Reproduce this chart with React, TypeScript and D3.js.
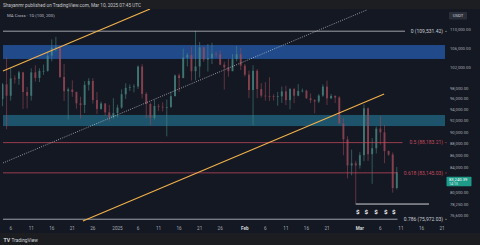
import React from "react";
import * as d3 from "d3";

const candleDates = [
  "2024-12-04","2024-12-05","2024-12-06","2024-12-07","2024-12-08","2024-12-09","2024-12-10","2024-12-11","2024-12-12","2024-12-13",
  "2024-12-14","2024-12-15","2024-12-16","2024-12-17","2024-12-18","2024-12-19","2024-12-20","2024-12-21","2024-12-22","2024-12-23",
  "2024-12-24","2024-12-25","2024-12-26","2024-12-27","2024-12-28","2024-12-29","2024-12-30","2024-12-31","2025-01-01","2025-01-02",
  "2025-01-03","2025-01-04","2025-01-05","2025-01-06","2025-01-07","2025-01-08","2025-01-09","2025-01-10","2025-01-11","2025-01-12",
  "2025-01-13","2025-01-14","2025-01-15","2025-01-16","2025-01-17","2025-01-18","2025-01-19","2025-01-20","2025-01-21","2025-01-22",
  "2025-01-23","2025-01-24","2025-01-25","2025-01-26","2025-01-27","2025-01-28","2025-01-29","2025-01-30","2025-01-31","2025-02-01",
  "2025-02-02","2025-02-03","2025-02-04","2025-02-05","2025-02-06","2025-02-07","2025-02-08","2025-02-09","2025-02-10","2025-02-11",
  "2025-02-12","2025-02-13","2025-02-14","2025-02-15","2025-02-16","2025-02-17","2025-02-18","2025-02-19","2025-02-20","2025-02-21",
  "2025-02-22","2025-02-23","2025-02-24","2025-02-25","2025-02-26","2025-02-27","2025-02-28","2025-03-01","2025-03-02","2025-03-03",
  "2025-03-04","2025-03-05","2025-03-06","2025-03-07","2025-03-08","2025-03-09","2025-03-10",
];
const opens = [
  95980,98770,96600,99900,99850,101100,97300,96600,101100,100000,
  101400,101400,104450,106060,106140,100200,97460,97800,97300,95190,
  94880,98680,99430,95800,94160,95160,93530,92640,93390,94400,
  96880,98100,98230,98360,102240,96950,95060,92550,94700,94560,
  94490,94520,96530,100500,99990,104080,104560,101330,102260,106140,
  103650,103960,104820,104700,102620,102080,101330,103730,104730,102430,
  100640,97690,101400,97870,96620,96550,96530,96480,96500,97430,
  95780,97870,96610,97500,97570,96120,95770,95540,96640,98340,
  96120,96580,96270,91550,88740,84350,84710,84350,86060,94270,
  86220,87220,90620,89960,86740,86150,80730,
];
const highs = [
  99000,104090,101900,100500,101400,101200,98270,101900,102500,101900,
  102650,105250,107790,108350,106500,102800,98150,99540,97400,96420,
  99400,99960,99960,97300,95500,95200,94900,96150,94930,97800,
  98970,98750,98800,102480,102720,97260,95350,95840,95050,95400,
  95900,97370,100680,100870,105870,104980,106300,109590,107240,106330,
  106850,107100,105280,105500,103220,103780,104780,106460,106000,102780,
  101460,102500,101750,99000,99200,100140,96880,97320,98350,98500,
  98100,98100,98800,97970,97730,97040,96000,96900,98770,99500,
  96950,96670,96500,92500,89290,87000,85120,86560,95000,94420,
  88960,91000,92810,91250,86850,86500,84120,
];
const lows = [
  94660,90500,95700,98900,98700,94150,94250,95700,99300,99200,
  100600,101230,103300,105300,100000,95600,92230,96400,94200,92400,
  93400,97600,95140,93250,94000,92880,91900,92300,92600,94200,
  96000,97500,97250,97900,96100,92500,91200,92200,93800,93700,
  89260,94300,96500,97300,99950,102270,99500,99550,100100,103200,
  101260,102750,104100,102500,97780,100270,101330,103300,101560,100280,
  96150,91230,96150,96250,95700,95620,95700,94750,95260,94850,
  94090,95220,96500,97230,96050,95220,93370,95240,96400,94870,
  96000,95250,91350,86050,82260,82750,78260,83830,85050,85100,
  81390,86340,87850,84720,85950,80000,80520,
];
const closes = [
  98770,96600,99900,99850,101100,97300,96600,101100,100000,101400,
  101400,104450,106060,106140,100200,97460,97800,97300,95190,94880,
  98680,99430,95800,94160,95160,93530,92640,93390,94400,96880,
  98100,98230,98360,102240,96950,95060,92550,94700,94560,94490,
  94520,96530,100500,99990,104080,104560,101330,102260,106140,103650,
  103960,104820,104700,102620,102080,101330,103730,104730,102430,100640,
  97690,101400,97870,96620,96550,96530,96480,96500,97430,95780,
  97870,96610,97500,97570,96120,95770,95540,96640,98340,96120,
  96580,96270,91550,88740,84350,84710,84350,86060,94270,86220,
  87220,90620,89960,86740,86150,80730,83240,
];

const priceTicks = [110000, 106000, 102000, 98000, 96000, 94000, 92000, 90000, 88000, 86000, 84000, 80000, 78250, 76600];
const timeTickDates = [
  "2024-12-06","2024-12-11","2024-12-16","2024-12-21","2024-12-26","2025-01-01","2025-01-06","2025-01-11","2025-01-16","2025-01-21",
  "2025-01-26","2025-02-01","2025-02-06","2025-02-11","2025-02-16","2025-02-21","2025-03-01","2025-03-06","2025-03-11","2025-03-16","2025-03-21",
];
const timeTickLabels = ["6","11","16","21","26","2025","6","11","16","21","26","Feb","6","11","16","21","Mar","6","11","16","21"];

const fibRatios = ["0", "0.5", "0.618", "0.786"];
const fibPrices = [109531.42, 88183.21, 83145.03, 75972.03];
const fibColors = ["#c9ccd4", "#c24a5e", "#c24a5e", "#c9ccd4"];

const zoneTop = [106620, 93060];
const zoneBottom = [103770, 91070];
const zoneColors = ["#22549c", "#1f5f78"];

const trendStartDates = ["2024-12-04T03:00", "2024-12-04T03:00", "2024-12-23T14:00"];
const trendStartPrices = [101360, 84760, 75710];
const trendEndDates = ["2025-01-08T22:00", "2025-03-02T16:00", "2025-03-06T22:00"];
const trendEndPrices = [114370, 114150, 96930];
const trendStyles = ["solid", "dotted", "solid"];

const supportPrice = 78250;
const supportStart = "2025-02-28T00:00";
const supportEnd = "2025-03-17T20:00";
const dollarDates = ["2025-02-28T12:00", "2025-03-02T14:00", "2025-03-04T22:00", "2025-03-07T08:00", "2025-03-09T06:00"];
const dollarPrice = 77050;

const lastPrice = 83240.39;
const lastPriceText = "83,240.39";
const countdownText = "14:15";

const W = 480, H = 245;
const paneLeft = 2, paneRight = 447, paneTop = 9, paneBottom = 222;
const font = "Roboto, 'Noto Sans', sans-serif";

const pd = (s: string) => new Date(s + (s.length === 10 ? "T00:00:00Z" : ":00Z"));

export default function App() {
  const x = d3.scaleUtc().domain([pd("2024-12-06"), pd("2025-03-21")]).range([10.7, 442]);
  const y = d3.scaleLog().domain([110000, 76600]).range([29, 215]);
  const fmt = d3.format(",.2f");
  const bodyW = 1.9;

  return (
    <svg width={W} height={H} style={{ position: "fixed", left: 0, top: 0, display: "block" }} fontFamily={font}>
      <defs>
        <clipPath id="pane">
          <rect x={paneLeft} y={paneTop} width={paneRight - paneLeft} height={paneBottom - paneTop} />
        </clipPath>
      </defs>
      <rect x={0} y={0} width={W} height={H} fill="#141822" />
      {/* header */}
      <rect x={0} y={0} width={W} height={paneTop} fill="#1d1e22" />
      <text x={3} y={6.6} fontSize={4.7} fill="#c3c6cc">Shayanmr published on TradingView.com, Mar 10, 2025 07:45 UTC</text>
      {/* bottom bar */}
      <rect x={0} y={233} width={W} height={12} fill="#1c1d20" />
      <text x={3.5} y={241.5} fontSize={5.2} fontWeight={700} fill="#d1d4dc">TV</text>
      <text x={11.5} y={241.5} fontSize={4.8} fill="#d1d4dc">TradingView</text>

      <g clipPath="url(#pane)">
        {zoneTop.map((p, i) => (
          <rect key={"z" + i} x={paneLeft + 1} y={y(p)} width={445 - paneLeft - 1} height={y(zoneBottom[i]) - y(p)} fill={zoneColors[i]} opacity={0.85} />
        ))}
        {candleDates.map((d, i) => {
          const cx = x(pd(d));
          const up = closes[i] >= opens[i];
          const col = up ? "#4a8c86" : "#a04b5a";
          const yo = y(opens[i]), yc = y(closes[i]);
          return (
            <g key={"c" + i} opacity={0.8}>
              <line x1={cx} x2={cx} y1={y(highs[i])} y2={y(lows[i])} stroke={col} strokeWidth={0.7} />
              <rect x={cx - bodyW / 2} y={Math.min(yo, yc)} width={bodyW} height={Math.max(0.7, Math.abs(yo - yc))} fill={col} />
            </g>
          );
        })}
        {fibPrices.map((p, i) => {
          const label = `${fibRatios[i]} (${fmt(p)})`;
          const lx = 443 - label.length * 2.5 - 3;
          return (
            <line key={"f" + i} x1={paneLeft + 1} x2={lx} y1={y(p)} y2={y(p)} stroke={fibColors[i]} strokeWidth={0.9} opacity={0.85} />
          );
        })}
        {trendStartDates.map((d, i) => (
          <line key={"t" + i}
            x1={x(pd(d))} y1={y(trendStartPrices[i])}
            x2={x(pd(trendEndDates[i]))} y2={y(trendEndPrices[i])}
            stroke={trendStyles[i] === "dotted" ? "#c9ccd4" : "#f2b14a"}
            strokeWidth={trendStyles[i] === "dotted" ? 0.8 : 1.1}
            strokeDasharray={trendStyles[i] === "dotted" ? "0.9 1.4" : undefined} />
        ))}
        <line x1={x(pd(supportStart))} x2={x(pd(supportEnd))} y1={y(supportPrice)} y2={y(supportPrice)} stroke="#e6e8ee" strokeWidth={0.9} />
        {dollarDates.map((d, i) => (
          <text key={"d" + i} x={x(pd(d))} y={y(dollarPrice) + 2.3} fontSize={6.2} fontWeight={700} fill="#f0f1f4" textAnchor="middle">$</text>
        ))}
      </g>

      {/* legend */}
      <text x={7} y={16.5} fontSize={4.3} fill="#b9bcc4">MA Cross · 1D (100, 200)</text>

      {/* fib labels */}
      {fibPrices.map((p, i) => {
        const label = `${fibRatios[i]} (${fmt(p)})`;
        return (
          <g key={"fl" + i}>
            <text x={443} y={y(p) + 1.7} fontSize={5} fill={fibColors[i]} textAnchor="end">{label}</text>
            <circle cx={446} cy={y(p)} r={0.55} fill={fibColors[i]} />
          </g>
        );
      })}

      {/* price axis */}
      <rect x={449} y={12} width={18} height={7.5} rx={1} fill="#2a2e39" />
      <text x={458} y={17.4} fontSize={4.3} fill="#d1d4dc" textAnchor="middle">USDT</text>
      {priceTicks.map((p, i) => (
        <text key={"p" + i} x={450} y={y(p) + 1.5} fontSize={4.2} fill="#a9acb5">{fmt(p)}</text>
      ))}
      <rect x={446.5} y={y(lastPrice) + 4.5} width={25} height={9.5} rx={0.8} fill="#1e9a88" />
      <text x={449} y={y(lastPrice) + 8.6} fontSize={4.2} fill="#ffffff">{lastPriceText}</text>
      <text x={449} y={y(lastPrice) + 12.8} fontSize={3.6} fill="#d8f0ec">{countdownText}</text>

      {/* time axis */}
      {timeTickDates.map((d, i) => {
        const bold = isNaN(+timeTickLabels[i]);
        return (
          <text key={"x" + i} x={x(pd(d))} y={229.5} fontSize={4.6} textAnchor="middle"
            fill={bold ? "#d1d4dc" : "#a9acb5"} fontWeight={bold ? 700 : 400}>{timeTickLabels[i]}</text>
        );
      })}
    </svg>
  );
}
